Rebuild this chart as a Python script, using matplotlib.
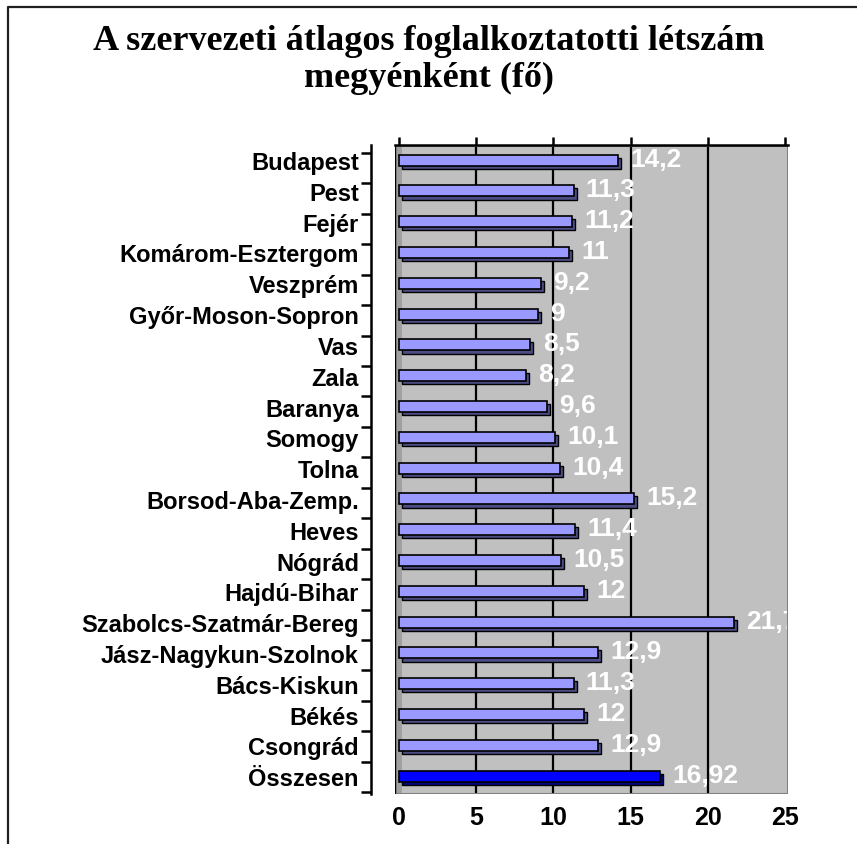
import matplotlib

matplotlib.use("Agg")
import matplotlib.pyplot as plt
import numpy as np
from matplotlib.lines import Line2D
from matplotlib.patches import Rectangle

megyek = [
    "Budapest", "Pest", "Fejér", "Komárom-Esztergom", "Veszprém",
    "Győr-Moson-Sopron", "Vas", "Zala", "Baranya", "Somogy", "Tolna",
    "Borsod-Aba-Zemp.", "Heves", "Nógrád", "Hajdú-Bihar",
    "Szabolcs-Szatmár-Bereg", "Jász-Nagykun-Szolnok", "Bács-Kiskun",
    "Békés", "Csongrád", "Összesen",
]
letszam = [14.2, 11.3, 11.2, 11, 9.2, 9, 8.5, 8.2, 9.6, 10.1, 10.4,
           15.2, 11.4, 10.5, 12, 21.7, 12.9, 11.3, 12, 12.9, 16.92]
cimkek = ["14,2", "11,3", "11,2", "11", "9,2", "9", "8,5", "8,2", "9,6",
          "10,1", "10,4", "15,2", "11,4", "10,5", "12", "21,7", "12,9",
          "11,3", "12", "12,9", "16,92"]
x_ticks = [0, 5, 10, 15, 20, 25]

W, H = 857, 845
fig = plt.figure(figsize=(W / 100, H / 100), dpi=100)

# keret (csak bal és felső él látszik)
fig.add_artist(Line2D([8 / W, 8 / W, 1.0], [0.0, 1 - 8 / H, 1 - 8 / H],
                      transform=fig.transFigure, color="#202020", lw=1.6))

fig.text(0.5, 1 - 41 / H, "A szervezeti átlagos foglalkoztatotti létszám",
         ha="center", va="center", fontsize=26, fontweight="bold",
         family="Liberation Serif")
fig.text(0.5, 1 - 78 / H, "megyénként (fő)", ha="center", va="center",
         fontsize=26, fontweight="bold", family="Liberation Serif")

ax = fig.add_axes([395 / W, 50 / H, 393 / W, 649 / H])
ax.set_facecolor("#C0C0C0")
ax.set_xlim(-0.26, 25.19)
ax.set_ylim(20.58, -0.49)

y = np.arange(len(megyek))
face = ["#9999FF"] * (len(megyek) - 1) + ["#0000FF"]
side = ["#4D4D85"] * (len(megyek) - 1) + ["#000080"]

for gx in x_ticks[1:-1]:
    ax.axvline(gx, color="black", lw=1.6, zorder=1)

# oldalsó sáv a fal bal szélén
ax.add_patch(Rectangle((0, 0), 7 / 393, 1, transform=ax.transAxes,
                       facecolor="#A0A0A0", edgecolor="none", zorder=1))

ax.barh(y + 0.1, letszam, left=0.2, height=0.36, color=side,
        edgecolor="black", lw=1.0, zorder=2)
ax.barh(y, letszam, height=0.36, color=face, edgecolor="black", lw=1.2,
        zorder=3)

for yi, v, t in zip(y, letszam, cimkek):
    ax.text(v + 0.8, yi - 0.05, t, ha="left", va="center", color="white",
            fontsize=19, fontweight="bold", family="Liberation Sans",
            zorder=4, clip_on=True)

ax.add_patch(Rectangle((0, 0), 1, 1, transform=ax.transAxes, fill=False,
                       edgecolor="#808080", lw=2.2, zorder=5))
ax.axvline(-0.26, color="black", lw=1.5, zorder=5)

for s in ["bottom", "right"]:
    ax.spines[s].set_visible(False)
ax.spines["top"].set_linewidth(1.8)
ax.spines["top"].set_zorder(6)
ax.spines["left"].set_position(("outward", 17))
ax.spines["left"].set_linewidth(1.8)

ax.set_xticks(x_ticks)
ax.set_xticklabels([str(t) for t in x_ticks])
ax.tick_params(axis="x", top=True, bottom=False, labelbottom=True,
               direction="out", length=6, width=1.8, pad=2,
               labelsize=18)

ax.set_yticks(y)
ax.set_yticklabels(megyek)
ax.set_yticks(np.linspace(-0.23, 20.52, 22), minor=True)
ax.tick_params(axis="y", which="major", length=0, pad=9, labelsize=17)
ax.tick_params(axis="y", which="minor", length=7, width=1.8,
               direction="out")
for lab in ax.get_xticklabels() + ax.get_yticklabels():
    lab.set_fontweight("bold")
    lab.set_family("Liberation Sans")

fig.savefig("out.png", dpi=100)
